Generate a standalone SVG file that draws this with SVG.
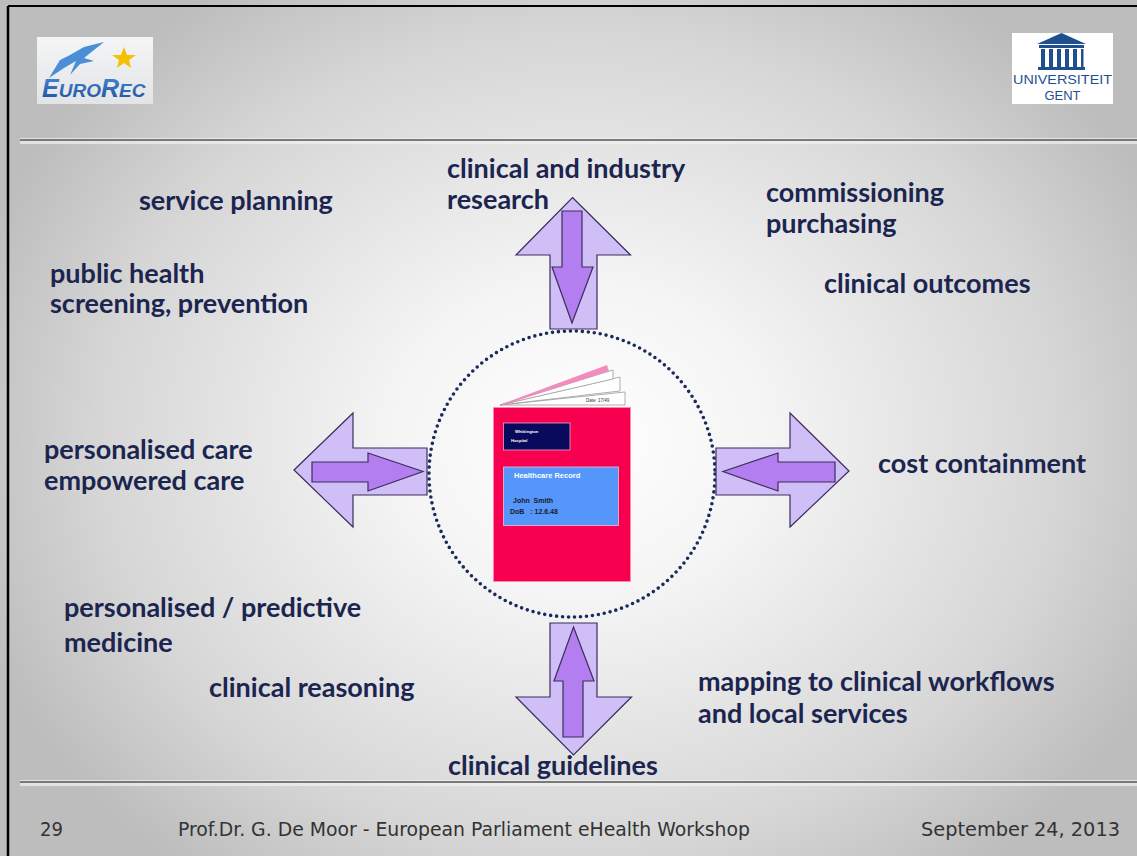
<svg xmlns="http://www.w3.org/2000/svg" width="1137" height="856" viewBox="0 0 1137 856">
  <defs>
    <radialGradient id="bg" gradientUnits="userSpaceOnUse" cx="580" cy="440" r="640" gradientTransform="translate(580 440) scale(1 0.85) translate(-580 -440)">
      <stop offset="0" stop-color="#ffffff"/>
      <stop offset="0.3" stop-color="#f4f4f4"/>
      <stop offset="0.75" stop-color="#d6d6d6"/>
      <stop offset="1" stop-color="#bdbdbd"/>
    </radialGradient>
    <linearGradient id="euroBox" x1="0" y1="0" x2="0" y2="1">
      <stop offset="0" stop-color="#f4f5f6"/>
      <stop offset="1" stop-color="#e2e4e6"/>
    </linearGradient>
    <linearGradient id="euroText" x1="0" y1="0" x2="0" y2="1">
      <stop offset="0" stop-color="#4a8ad8"/>
      <stop offset="1" stop-color="#1c4f9c"/>
    </linearGradient>
    <style>
      .lbl { font-family: Lato, "Liberation Sans", sans-serif; font-weight: 700; font-size: 27px; fill: #1b2550; }
      .foot { font-family: "DejaVu Sans Condensed", "DejaVu Sans", sans-serif; font-stretch: condensed; font-size: 20px; fill: #333333; }
      .outer { fill: #d0bff7; stroke: #3b2d5c; stroke-width: 1.2; stroke-linejoin: miter; }
      .inner { fill: #b27ef0; stroke: #3b2d5c; stroke-width: 1.2; }
      .rule { stroke: #555555; stroke-width: 1.6; }
      .glow { stroke: #f2f2f2; stroke-width: 6; opacity: 0.7; }
      .page { fill: #ffffff; stroke: #9a9a9a; stroke-width: 0.8; }
      .ug { font-family: "Liberation Sans", sans-serif; font-size: 13px; fill: #1f4f8f; }
    </style>
  </defs>

  <!-- slide background -->
  <rect x="0" y="0" width="1137" height="856" fill="url(#bg)"/>

  <!-- frame edges -->
  <line x1="8" y1="6" x2="1137" y2="6" stroke="#000" stroke-width="2"/>
  <line x1="8" y1="6" x2="8" y2="856" stroke="#000" stroke-width="2.5"/>

  <!-- header / footer rules -->
  <line class="glow" x1="20" y1="141" x2="1137" y2="141"/>
  <line class="rule" x1="20" y1="140" x2="1137" y2="140"/>
  <line class="glow" x1="20" y1="783" x2="1137" y2="783"/>
  <line class="rule" x1="20" y1="782" x2="1137" y2="782"/>

  <!-- EuroRec logo -->
  <g id="logo-eurorec">
    <rect x="37" y="37" width="116" height="67" fill="url(#euroBox)"/>
    <path d="M49,78 L60,60 L70,55 L84,47 L104,42 L84,58 L94,61 L80,64 L70,75 L76,61 L64,68 Z" fill="#4a8fd6"/>
    <polygon points="124,47 127,55 136,55 129,60 131,68 124,63 117,68 119,60 112,55 121,55" fill="#f5c000"/>
    <text x="42" y="97" font-family="'Liberation Sans', sans-serif" font-style="italic" font-weight="700" fill="url(#euroText)"><tspan font-size="25">E</tspan><tspan font-size="19">URO</tspan><tspan font-size="25">R</tspan><tspan font-size="19">EC</tspan></text>
  </g>

  <!-- Universiteit Gent logo -->
  <g id="logo-ugent">
    <rect x="1012" y="33" width="101" height="71" fill="#ffffff"/>
    <polygon points="1061.5,33 1086,44 1037,44" fill="#1f4f8f"/>
    <rect x="1039" y="45" width="45" height="3" fill="#1f4f8f"/>
    <g fill="#1f4f8f">
      <rect x="1041" y="49" width="4" height="18"/>
      <rect x="1049" y="49" width="4" height="18"/>
      <rect x="1057" y="49" width="4" height="18"/>
      <rect x="1065" y="49" width="4" height="18"/>
      <rect x="1073" y="49" width="4" height="18"/>
      <rect x="1081" y="49" width="2.5" height="18"/>
    </g>
    <rect x="1038" y="67" width="47" height="3" fill="#1f4f8f"/>
    <text class="ug" x="1013" y="84" textLength="99" lengthAdjust="spacingAndGlyphs">UNIVERSITEIT</text>
    <text class="ug" x="1062.5" y="100" text-anchor="middle">GENT</text>
  </g>

  <!-- central health record -->
  <g id="record">
    <circle cx="572" cy="474" r="143" fill="none" stroke="#1a2a5a" stroke-width="3.6" stroke-linecap="round" stroke-dasharray="0 6"/>
    <polygon points="500,405 625,392 625,405" class="page"/>
    <polygon points="500,405 620,377 620,391" class="page"/>
    <polygon points="500,405 613,370 613,379" class="page"/>
    <polygon points="499,405 607,365 609,371 503,405" fill="#f08cbe"/>
    <text x="586" y="402" font-family="'Liberation Sans', sans-serif" font-size="4.5" fill="#333">Date: 17/49</text>
    <rect x="493.5" y="407.5" width="137" height="174" fill="#f7004f" stroke="#ff8cb0" stroke-width="0.8"/>
    <rect x="503.5" y="423" width="66.5" height="27" fill="#0a0a5c" stroke="#f0a0c8" stroke-width="0.8"/>
    <text x="515" y="433" font-family="'Liberation Sans', sans-serif" font-size="4.2" font-weight="700" fill="#ffffff">Whittington</text>
    <text x="511" y="442" font-family="'Liberation Sans', sans-serif" font-size="4.2" font-weight="700" fill="#ffffff">Hospital</text>
    <rect x="503.5" y="467" width="115" height="58.5" fill="#5496fa" stroke="#f4b8d8" stroke-width="0.8"/>
    <text x="514" y="478" font-family="'Liberation Sans', sans-serif" font-size="7.5" font-weight="700" fill="#ffffff">Healthcare Record</text>
    <text x="513" y="503" font-family="'Liberation Sans', sans-serif" font-size="7" font-weight="700" fill="#1a1a2a" xml:space="preserve">John  Smith</text>
    <text x="510" y="514" font-family="'Liberation Sans', sans-serif" font-size="7" font-weight="700" fill="#1a1a2a" xml:space="preserve">DoB   : 12.6.48</text>
  </g>

  <!-- two-way arrows around the record -->
  <g id="connectors">
    <g id="arrow-top">
      <polygon class="outer" points="572.5,197.5 630.5,255 597,255 597,329 550,329 550,255 516,255"/>
      <polygon class="inner" points="562,211 582,211 582,267 593,267 572,323 552,267 562,267"/>
    </g>
    <g id="arrow-bottom">
      <polygon class="outer" points="550,623 597,623 597,697 631.5,697 573.5,755 516,697 550,697"/>
      <polygon class="inner" points="573.5,627 594,681 583,681 583,737 563,737 563,681 554,681"/>
    </g>
    <g id="arrow-left">
      <polygon class="outer" points="294,470 353,413 353,448 427,448 427,495 353,495 353,527"/>
      <polygon class="inner" points="312,462 368,462 368,453 423,471.5 368,491 368,482 312,482"/>
    </g>
    <g id="arrow-right">
      <polygon class="outer" points="849,471 790,413 790,448 716,448 716,495 790,495 790,527"/>
      <polygon class="inner" points="835,462 778,462 778,453 723,471.5 778,491 778,482 835,482"/>
    </g>
  </g>

  <!-- surrounding labels -->
  <g id="label-research"><text class="lbl" x="447" y="178">clinical and industry</text><text class="lbl" x="447" y="209">research</text></g>
  <g id="label-service"><text class="lbl" x="139" y="210">service planning</text></g>
  <g id="label-commissioning"><text class="lbl" x="766" y="202">commissioning</text><text class="lbl" x="766" y="233">purchasing</text></g>
  <g id="label-outcomes"><text class="lbl" x="824" y="293">clinical outcomes</text></g>
  <g id="label-public"><text class="lbl" x="50" y="283">public health</text><text class="lbl" x="50" y="313">screening, prevention</text></g>
  <g id="label-personalised"><text class="lbl" x="44" y="459">personalised care</text><text class="lbl" x="44" y="490">empowered care</text></g>
  <g id="label-cost"><text class="lbl" x="878" y="473">cost containment</text></g>
  <g id="label-predictive"><text class="lbl" x="64" y="617">personalised / predictive</text><text class="lbl" x="64" y="652">medicine</text></g>
  <g id="label-reasoning"><text class="lbl" x="209" y="697">clinical reasoning</text></g>
  <g id="label-mapping"><text class="lbl" x="698" y="691">mapping to clinical workflows</text><text class="lbl" x="698" y="723">and local services</text></g>
  <g id="label-guidelines"><text class="lbl" x="448" y="775">clinical guidelines</text></g>

  <!-- footer -->
  <g id="footer">
    <text class="foot" x="40" y="836">29</text>
    <text class="foot" x="178" y="836" textLength="572" lengthAdjust="spacingAndGlyphs">Prof.Dr. G. De Moor - European Parliament eHealth Workshop</text>
    <text class="foot" x="921" y="836" textLength="199" lengthAdjust="spacingAndGlyphs">September 24, 2013</text>
  </g>
</svg>
